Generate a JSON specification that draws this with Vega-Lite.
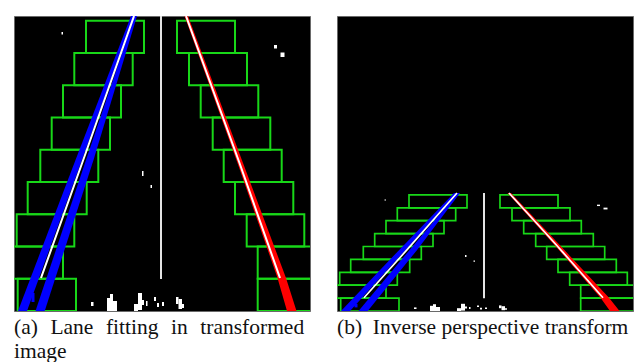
{
  "$schema": "https://vega.github.io/schema/vega-lite/v6.json",
  "background": "white",
  "padding": {"left": 13, "top": 11, "right": 0, "bottom": 0},
  "spacing": 27,
  "bounds": "flush",
  "config": {
    "view": {"fill": "black", "stroke": "#6a6a6a", "strokeWidth": 1},
    "title": {"font": "Liberation Serif", "fontSize": 21.5, "fontWeight": "normal", "color": "#111111", "anchor": "start", "orient": "bottom", "offset": 6, "baseline": "alphabetic", "lineHeight": 24}
  },
  "datasets": {
    "boxes": [
      {"x": 85, "x2": 143, "y": 15.7, "y2": 48},
      {"x": 73.3, "x2": 131.7, "y": 48, "y2": 80.2},
      {"x": 62, "x2": 120, "y": 80.2, "y2": 112.5},
      {"x": 50.7, "x2": 109, "y": 112.5, "y2": 144.7},
      {"x": 39.3, "x2": 97.3, "y": 144.7, "y2": 177},
      {"x": 26.7, "x2": 85.7, "y": 177, "y2": 209.2},
      {"x": 15.7, "x2": 73.3, "y": 209.2, "y2": 241.5},
      {"x": 4, "x2": 62, "y": 241.5, "y2": 273.7},
      {"x": 16.7, "x2": 75, "y": 273.7, "y2": 306},
      {"x": 176, "x2": 234, "y": 15.7, "y2": 48},
      {"x": 188, "x2": 246, "y": 48, "y2": 80.2},
      {"x": 199.7, "x2": 257.3, "y": 80.2, "y2": 112.5},
      {"x": 211.7, "x2": 269.3, "y": 112.5, "y2": 144.7},
      {"x": 222.7, "x2": 280.7, "y": 144.7, "y2": 177},
      {"x": 234, "x2": 292.3, "y": 177, "y2": 209.2},
      {"x": 245.7, "x2": 303.3, "y": 209.2, "y2": 241.5},
      {"x": 256.7, "x2": 315, "y": 241.5, "y2": 273.7},
      {"x": 256.7, "x2": 315, "y": 273.7, "y2": 306}
    ],
    "bands": [
      {"lane": "left", "strip": "l1", "y": 11, "x": 130, "x2": 132.5},
      {"lane": "left", "strip": "l1", "y": 155, "x": 74.5, "x2": 81},
      {"lane": "left", "strip": "l1", "y": 306, "x": 17, "x2": 26},
      {"lane": "left", "strip": "l2", "y": 11, "x": 133.5, "x2": 136},
      {"lane": "left", "strip": "l2", "y": 155, "x": 85, "x2": 92.5},
      {"lane": "left", "strip": "l2", "y": 306, "x": 34.5, "x2": 43.7},
      {"lane": "right", "strip": "r1", "y": 11, "x": 183.5, "x2": 187},
      {"lane": "right", "strip": "r1", "y": 158, "x": 236.5, "x2": 242},
      {"lane": "right", "strip": "r1", "y": 273, "x": 276.5, "x2": 285},
      {"lane": "right", "strip": "r1", "y": 306, "x": 286, "x2": 295.5}
    ],
    "fits": [
      {"lane": "left", "x": 133, "y": 11},
      {"lane": "left", "x": 84, "y": 150},
      {"lane": "left", "x": 40, "y": 273},
      {"lane": "right", "x": 185, "y": 11},
      {"lane": "right", "x": 238.5, "y": 158},
      {"lane": "right", "x": 279, "y": 273}
    ],
    "center": [
      {"x": 160, "y": 11, "y2": 274}
    ],
    "specks": [
      {"lane": "noise", "x": 60.5, "x2": 62, "y": 27, "y2": 29.5},
      {"lane": "noise", "x": 273, "x2": 276, "y": 40, "y2": 43.5},
      {"lane": "noise", "x": 279.5, "x2": 283.5, "y": 47.5, "y2": 52},
      {"lane": "noise", "x": 141, "x2": 142.5, "y": 166, "y2": 171},
      {"lane": "noise", "x": 149.5, "x2": 151, "y": 180, "y2": 183},
      {"lane": "noise", "x": 90, "x2": 92.5, "y": 297, "y2": 301},
      {"lane": "noise", "x": 106, "x2": 109, "y": 293, "y2": 306},
      {"lane": "noise", "x": 109, "x2": 112, "y": 289, "y2": 306},
      {"lane": "noise", "x": 112, "x2": 116, "y": 296, "y2": 306},
      {"lane": "noise", "x": 133, "x2": 137, "y": 299, "y2": 306},
      {"lane": "noise", "x": 137, "x2": 141, "y": 288, "y2": 305},
      {"lane": "noise", "x": 141, "x2": 143, "y": 295, "y2": 300},
      {"lane": "noise", "x": 145, "x2": 146.5, "y": 296, "y2": 301},
      {"lane": "noise", "x": 153, "x2": 155, "y": 292, "y2": 296},
      {"lane": "noise", "x": 156, "x2": 158, "y": 298, "y2": 302},
      {"lane": "noise", "x": 161, "x2": 163, "y": 297, "y2": 301},
      {"lane": "noise", "x": 175, "x2": 177.5, "y": 292, "y2": 299},
      {"lane": "noise", "x": 177.5, "x2": 181, "y": 294, "y2": 304},
      {"lane": "noise", "x": 181, "x2": 183, "y": 299, "y2": 303},
      {"lane": "left", "x": 30.5, "x2": 33.5, "y": 288, "y2": 297}
    ]
  },
  "hconcat": [
    {
      "width": 296,
      "height": 295,
      "title": {"text": ["(a)\u2002\u200aLane\u2002\u200afitting\u2002\u200ain\u2002\u200atransformed", "image"]},
      "encoding": {
        "x": {"field": "x", "type": "quantitative", "scale": {"domain": [13, 309], "nice": false, "zero": false}, "axis": null},
        "y": {"field": "y", "type": "quantitative", "scale": {"domain": [11, 306], "nice": false, "zero": false, "reverse": true}, "axis": null},
        "color": {"field": "lane", "type": "nominal", "scale": {"domain": ["left", "right", "noise"], "range": ["#0000ff", "#ff0000", "#ffffff"]}, "legend": null}
      },
      "layer": [
        {"data": {"name": "boxes"}, "mark": {"type": "rect", "filled": false, "stroke": "#18d818", "strokeWidth": 2, "clip": true}, "encoding": {"x2": {"field": "x2"}, "y2": {"field": "y2"}, "color": null}},
        {"data": {"name": "bands"}, "mark": {"type": "area", "orient": "horizontal", "clip": true}, "encoding": {"x2": {"field": "x2"}, "detail": {"field": "strip", "type": "nominal"}}},
        {"data": {"name": "center"}, "mark": {"type": "rule", "color": "#e4e4e4", "strokeWidth": 2}, "encoding": {"y2": {"field": "y2"}, "color": null}},
        {"data": {"name": "specks"}, "mark": {"type": "rect"}, "encoding": {"x2": {"field": "x2"}, "y2": {"field": "y2"}}},
        {"data": {"name": "fits"}, "mark": {"type": "line", "strokeWidth": 2, "color": "#ffffff", "interpolate": "monotone"}, "encoding": {"detail": {"field": "lane", "type": "nominal"}, "order": {"field": "y", "type": "quantitative"}, "color": null}}
      ]
    },
    {
      "width": 296,
      "height": 295,
      "title": {"text": "(b)\u2002Inverse perspective transform"},
      "encoding": {
        "x": {"field": "x", "type": "quantitative", "scale": {"domain": [13, 309], "nice": false, "zero": false}, "axis": null},
        "y": {"field": "y", "type": "quantitative", "scale": {"domain": [-431.8, 306], "nice": false, "zero": false, "reverse": true}, "axis": null},
        "color": {"field": "lane", "type": "nominal", "scale": {"domain": ["left", "right", "noise"], "range": ["#0000ff", "#ff0000", "#ffffff"]}, "legend": null}
      },
      "layer": [
        {"data": {"name": "boxes"}, "mark": {"type": "rect", "filled": false, "stroke": "#18d818", "strokeWidth": 1.7, "clip": true}, "encoding": {"x2": {"field": "x2"}, "y2": {"field": "y2"}, "color": null}},
        {"data": {"name": "bands"}, "mark": {"type": "area", "orient": "horizontal", "clip": true}, "encoding": {"x2": {"field": "x2"}, "detail": {"field": "strip", "type": "nominal"}}},
        {"data": {"name": "center"}, "mark": {"type": "rule", "color": "#e4e4e4", "strokeWidth": 2}, "encoding": {"y2": {"field": "y2"}, "color": null}},
        {"data": {"name": "specks"}, "mark": {"type": "rect"}, "encoding": {"x2": {"field": "x2"}, "y2": {"field": "y2"}}},
        {"data": {"name": "fits"}, "mark": {"type": "line", "strokeWidth": 1.7, "color": "#ffffff", "interpolate": "monotone"}, "encoding": {"detail": {"field": "lane", "type": "nominal"}, "order": {"field": "y", "type": "quantitative"}, "color": null}}
      ]
    }
  ]
}
